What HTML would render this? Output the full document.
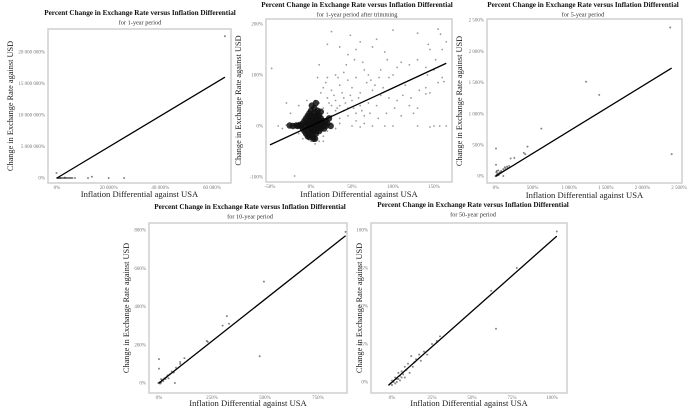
<!DOCTYPE html>
<html><head><meta charset="utf-8"><style>
body{margin:0;background:#fff;width:695px;height:412px;overflow:hidden}
svg{display:block;font-family:"Liberation Serif",serif}
</style></head><body>
<svg id="c" width="695" height="412"></svg>
<script>
// ---- Panel 1 data (1-year) ----
const p1Points=[[0,0],[300,0],[600,0],[900,0],[1200,0],[1500,0],[2000,0],[2500,0],[3000,0],[3500,0],[4000,0],[4500,0],[5000,0],[5500,0],[6000,0],[7000,0],[3000,50000],[12000,0],[13500,200000],[20000,0],[26000,0],[-200,800000],[65000,22500000]];
const p1Line=[[0,0],[65000,16000000]];
const p1XTicks=[0,20000,40000,60000];
const p1XLabels=["0%","20 000%","40 000%","60 000%"];
const p1YTicks=[0,5000000,10000000,15000000,20000000];
const p1YLabels=["0%","5 000 000%","10 000 000%","15 000 000%","20 000 000%"];
// ---- Panel 2 data (1-year trimmed) ----
const p2Points=[[-48,113],[-20,-98],[25,185],[48,178],[100,188],[130,182],[155,190],[158,180],[165,165],[160,150],[143,160],[145,150],[60,165],[80,170],[75,155],[55,150],[35,155],[20,160],[45,140],[90,145],[110,125],[120,120],[105,115],[130,130],[140,115],[150,110],[160,95],[155,85],[145,65],[140,75],[115,80],[100,100],[95,95],[85,110],[70,100],[65,110],[55,95],[45,90],[40,105],[30,100],[20,95],[10,120],[15,75],[25,70],[35,80],[50,75],[60,65],[75,70],[85,60],[95,55],[105,50],[120,40],[130,35],[110,20],[125,25],[80,40],[70,45],[60,40],[50,50],[40,55],[30,50],[20,55],[10,45],[5,50],[-5,50],[-15,40],[-30,45],[-25,25],[-40,0],[-30,2],[-20,0],[-35,-5],[50,0],[60,-2],[75,0],[90,0],[100,0],[130,0],[145,-2],[150,0],[165,0],[157,0],[162,87],[140,63],[30,30],[40,30],[45,20],[55,25],[65,20],[35,15],[25,20],[20,-10],[15,-20],[-10,-25],[-15,-15],[5,-35],[0,-30],[10,-30],[-5,-20],[15,-30],[30,-5],[35,5],[25,5],[20,25],[15,35],[25,40],[35,40],[45,35],[55,10],[65,5],[28,60],[38,65],[48,60],[58,55],[68,85],[78,80],[88,75],[33,95],[43,120],[53,130],[63,125],[73,90],[83,95],[93,130],[18,85],[8,95],[12,65],[22,45],[32,35],[42,45],[52,35],[62,30],[72,25],[82,15],[92,25],[102,35],[112,60],[122,55],[132,70],[142,100],[152,130]];
const p2Cluster=[[-12,0],[-10,5],[-10,-5],[-8,10],[-8,-10],[-6,0],[-6,15],[-6,-15],[-4,5],[-4,-5],[-4,20],[-4,-20],[-2,0],[-2,10],[-2,-10],[-2,25],[0,0],[0,5],[0,-5],[0,15],[0,-15],[0,30],[2,0],[2,10],[2,-10],[2,20],[2,-20],[4,0],[4,5],[4,-5],[4,15],[4,25],[4,35],[6,0],[6,10],[6,-10],[6,20],[6,-15],[8,5],[8,-5],[8,15],[8,25],[10,0],[10,10],[10,-10],[10,20],[12,5],[12,-5],[12,15],[14,0],[14,10],[16,5],[16,-5],[18,10],[18,0],[20,5],[-14,2],[-16,0],[-18,1],[-22,0],[-26,1],[22,15],[24,0],[3,-25],[5,-25],[-2,-22],[8,30],[12,28],[1,40],[6,45],[1,2],[3,8],[5,3],[7,-3],[-1,-3],[3,-8],[5,12],[9,2],[-3,3],[1,18],[7,8],[11,-2]];
const p2Line=[[-50,-37],[165,123]];
const p2XTicks=[-50,0,50,100,150];
const p2XLabels=["-50%","0%","50%","100%","150%"];
const p2YTicks=[-100,0,100,200];
const p2YLabels=["-100%","0%","100%","200%"];
// ---- Panel 3 data (5-year) ----
const p3Points=[[2380,2380],[2400,350],[1230,1510],[1410,1300],[620,760],[430,470],[0,440],[0,180],[100,0],[380,370],[400,350],[250,290],[200,280],[0,0],[5,10],[10,5],[15,20],[20,15],[30,30],[40,35],[50,60],[60,50],[70,80],[80,70],[100,110],[110,90],[120,140],[130,120],[150,150],[160,130],[180,160],[5,60],[10,80],[30,90],[50,40],[-5,-5],[20,40],[35,15]];
const p3Line=[[0,0],[2400,1730]];
const p3XTicks=[0,500,1000,1500,2000,2500];
const p3XLabels=["0%","500%","1 000%","1 500%","2 000%","2 500%"];
const p3YTicks=[0,500,1000,1500,2000,2500];
const p3YLabels=["0%","500%","1 000%","1 500%","2 000%","2 500%"];
// ---- Panel 4 data (10-year) ----
const p4Points=[[880,790],[495,530],[475,140],[320,350],[330,310],[300,300],[225,220],[230,215],[120,130],[100,110],[100,100],[80,80],[0,125],[0,75],[75,0],[0,0],[5,5],[10,2],[15,15],[20,10],[25,25],[30,20],[40,40],[50,45],[60,60],[70,55],[35,30],[10,20],[-3,0],[5,-3],[45,25]];
const p4Line=[[0,0],[880,770]];
const p4XTicks=[0,250,500,750];
const p4XLabels=["0%","250%","500%","750%"];
const p4YTicks=[0,200,400,600,800];
const p4YLabels=["0%","200%","400%","600%","800%"];
// ---- Panel 5 data (50-year) ----
const p5Points=[[103,99],[78,75],[62,60],[65,35],[30,30],[28,27],[25,25],[20,20],[17,18],[15,15],[12,17],[13,10],[10,12],[9,8],[8,10],[7,5],[6,7],[5,4],[4,6],[3,2],[2,3],[1,0],[0,1],[-1,-1],[-2,-2],[0,-2],[2,-1],[3,0],[4,2],[5,1],[6,3],[18,14],[22,18],[11,6],[14,13],[8,3]];
const p5Line=[[-2,-2],[103,96]];
const p5XTicks=[0,25,50,75,100];
const p5XLabels=["0%","25%","50%","75%","100%"];
const p5YTicks=[0,25,50,75,100];
const p5YLabels=["0%","25%","50%","75%","100%"];

const NS="http://www.w3.org/2000/svg";
const svg=document.getElementById('c');
function mk(tag,attrs,parent){const e=document.createElementNS(NS,tag);for(const k in attrs)e.setAttribute(k,attrs[k]);(parent||svg).appendChild(e);return e;}
function lin(d0,d1,r0,r1){return v=>r0+(v-d0)*(r1-r0)/(d1-d0);}

function panel(id,g,pts,line,xt,xl,yt,yl,sub,cluster){
  const G=mk('g',{});
  
  
  const sx=lin(g.xd[0],g.xd[1],g.xr[0],g.xr[1]);
  const sy=lin(g.yd[0],g.yd[1],g.yr[0],g.yr[1]);
  const fr=mk('rect',{x:g.l,y:g.t,width:g.r-g.l,height:g.b-g.t,fill:'#fff',stroke:'#cfcfcf','stroke-width':1.5},G);
  
  
  const t=mk('text',{x:g.tx,y:g.ty,'text-anchor':'middle','font-size':7.2,'font-weight':'bold',fill:'#111'},G);
  t.textContent='Percent Change in Exchange Rate versus Inflation Differential';
  
  
  const s=mk('text',{x:g.tx,y:g.ty+9.5,'text-anchor':'middle','font-size':6.3,fill:'#333'},G);
  s.textContent=sub;
  
  
  xt.forEach((v,i)=>{const e=mk('text',{x:sx(v),y:g.b+6,'text-anchor':'middle','font-size':5,fill:'#777'},G);e.textContent=xl[i];
    
    });
  yt.forEach((v,i)=>{const e=mk('text',{x:g.l-3,y:sy(v)+1.7,'text-anchor':'end','font-size':5,fill:'#777'},G);e.textContent=yl[i];
    
    });
  const xa=mk('text',{x:(g.l+g.r)/2,y:g.xly,'text-anchor':'middle','font-size':8.6,fill:'#222'},G);
  xa.textContent='Inflation Differential against USA';
  
  
  const cy=(g.t+g.b)/2;
  const ya=mk('text',{x:g.ylx,y:cy,'text-anchor':'middle','font-size':8.3,fill:'#222',transform:`rotate(-90 ${g.ylx} ${cy})`},G);
  ya.textContent='Change in Exchange Rate against USD';
  
  
  pts.forEach(p=>{const c=mk('circle',{cx:sx(p[0]),cy:sy(p[1]),r:g.pr||1,fill:'#222','fill-opacity':g.po||0.55},G);
    
    });
  (cluster||[]).forEach(p=>{const c=mk('circle',{cx:sx(p[0]),cy:sy(p[1]),r:3.2,fill:'#111','fill-opacity':0.85},G);
    
    });
  const L=mk('line',{x1:sx(line[0][0]),y1:sy(line[0][1]),x2:sx(line[1][0]),y2:sy(line[1][1]),stroke:'#000','stroke-width':1.3},G);
  
  
}
panel('panel-1-year',{l:48,r:231,t:29,b:183,xd:[0,60000],xr:[57,212],yd:[0,20000000],yr:[178,52],tx:140,ty:15,xly:197,ylx:13},p1Points,p1Line,p1XTicks,p1XLabels,p1YTicks,p1YLabels,'for 1-year period');
panel('panel-1-year-trimmed',{l:266,r:452,t:19,b:182,xd:[-50,150],xr:[270,434],yd:[-100,200],yr:[177,24],tx:357,ty:7,xly:197,ylx:241,pr:0.9,po:0.45},p2Points,p2Line,p2XTicks,p2XLabels,p2YTicks,p2YLabels,'for 1-year period after trimming',p2Cluster);
panel('panel-5-year',{l:487,r:682,t:19,b:183,xd:[0,2500],xr:[496,679],yd:[0,2500],yr:[176,20],tx:583,ty:7,xly:198,ylx:462},p3Points,p3Line,p3XTicks,p3XLabels,p3YTicks,p3YLabels,'for 5-year period');
panel('panel-10-year',{l:149,r:347,t:223,b:393,xd:[0,750],xr:[159,318],yd:[0,800],yr:[383,230],tx:250,ty:209,xly:406,ylx:129},p4Points,p4Line,p4XTicks,p4XLabels,p4YTicks,p4YLabels,'for 10-year period');
panel('panel-50-year',{l:371,r:567,t:223,b:393,xd:[0,100],xr:[392,552],yd:[0,100],yr:[382,230],tx:473,ty:207,xly:406,ylx:362},p5Points,p5Line,p5XTicks,p5XLabels,p5YTicks,p5YLabels,'for 50-year period');
</script>
</body></html>
